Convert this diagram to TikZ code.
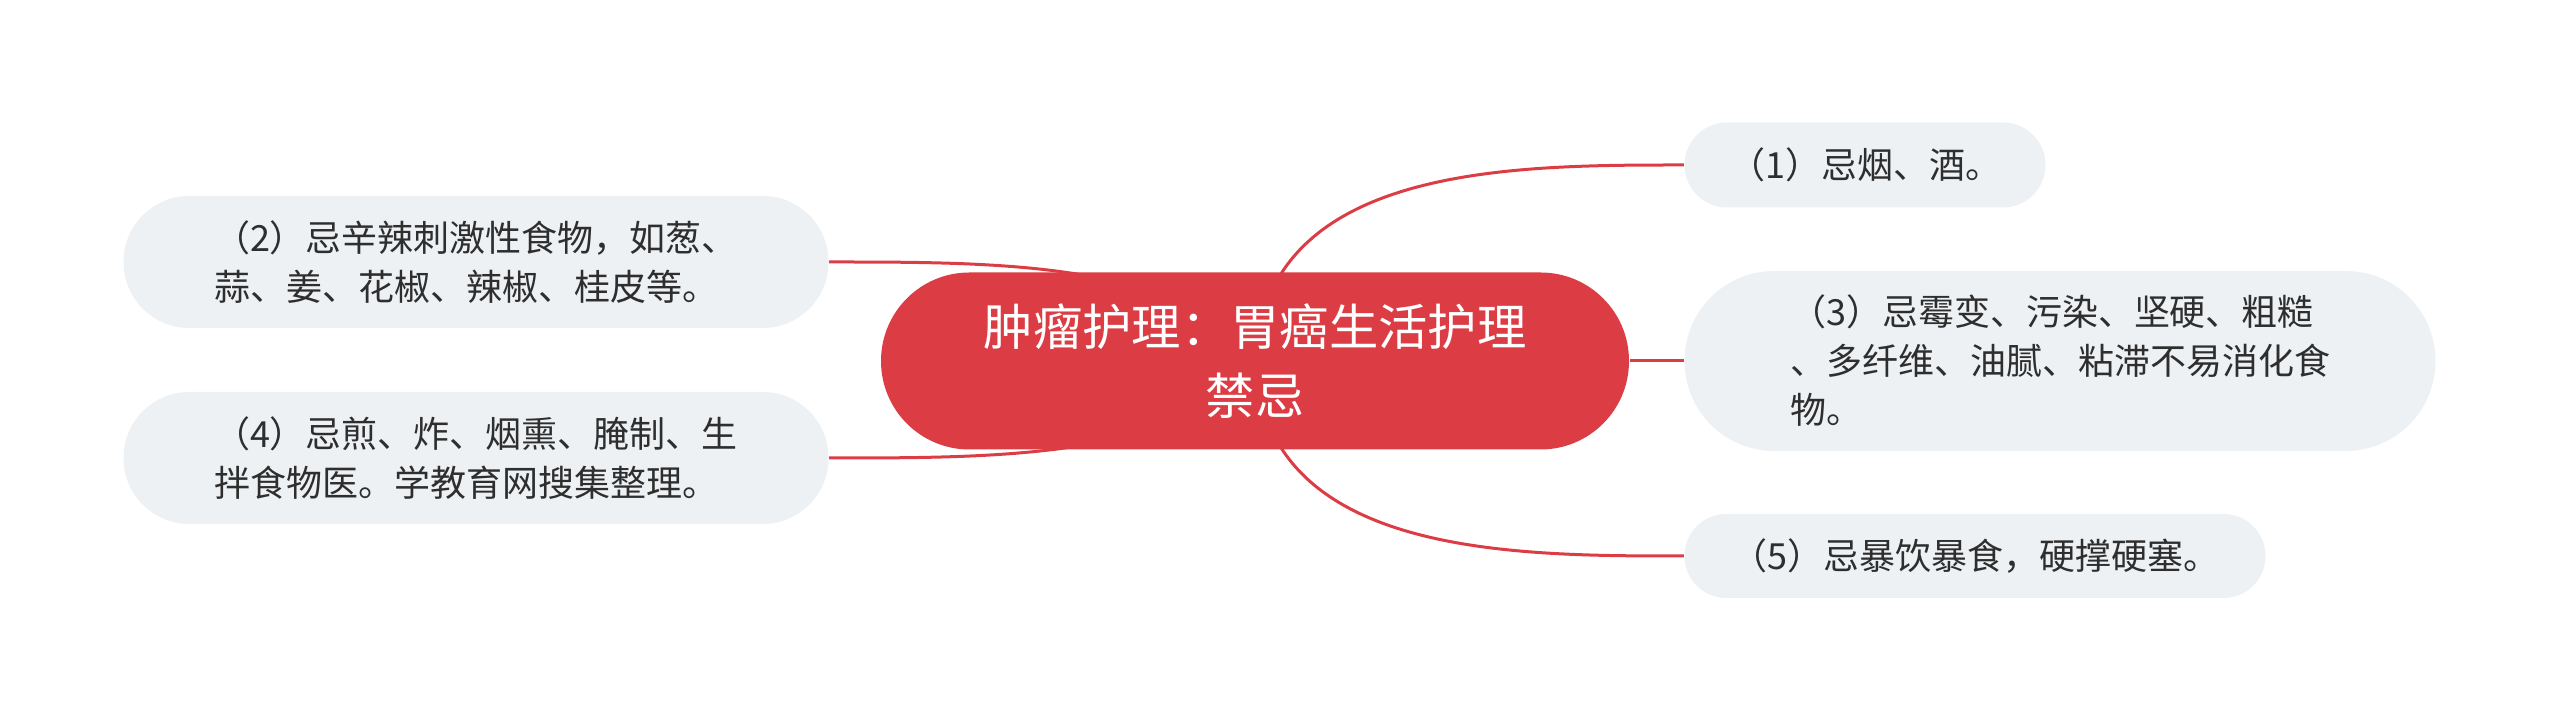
\documentclass[tikz,border=0pt]{standalone}
\usepackage{fontspec}
\newfontfamily\cjk{Noto Sans CJK SC}
\usetikzlibrary{backgrounds}
\definecolor{rootred}{RGB}{220,61,69}
\definecolor{leafgray}{RGB}{238,241,244}
\definecolor{leaftext}{RGB}{46,46,46}
\tikzset{
	root/.style={fill=rootred, text=white, rounded corners=26.5pt, minimum width=224.4pt, minimum height=53.1pt, align=center, font=\cjk\fontsize{14.8}{20.7}\selectfont},
	leaf/.style={fill=leafgray, text=leaftext, align=left, font=\cjk\fontsize{10.8}{14.7}\selectfont},
	link/.style={draw=rootred, line width=0.9pt},
}

\begin{document}
\begin{tikzpicture}[x=0.3pt, y=-0.3pt]
	\useasboundingbox (0,0) rectangle (2560,721);
	\node[root] (root) at (1255,361) {肿瘤护理：胃癌生活护理\\禁忌};
	\node[leaf, minimum width=108.3pt, minimum height=25.5pt, rounded corners=12.7pt] (c1) at (1865,165) {（1）忌烟、酒。};
	\node[leaf, minimum width=211.5pt, minimum height=39.6pt, rounded corners=19.7pt] (c2) at (476,262) {（2）忌辛辣刺激性食物，如葱、\\蒜、姜、花椒、辣椒、桂皮等。};
	\node[leaf, minimum width=225.3pt, minimum height=54pt, rounded corners=26.9pt] (c3) at (2060,361) {（3）忌霉变、污染、坚硬、粗糙\\、多纤维、油腻、粘滞不易消化食\\物。};
	\node[leaf, minimum width=211.5pt, minimum height=39.6pt, rounded corners=19.7pt] (c4) at (476,458) {（4）忌煎、炸、烟熏、腌制、生\\拌食物医。学教育网搜集整理。};
	\node[leaf, minimum width=174.3pt, minimum height=25.2pt, rounded corners=12.5pt] (c5) at (1975,556) {（5）忌暴饮暴食，硬撑硬塞。};
	\begin{scope}[on background layer]
		\draw[link] (root.center) .. controls ([xshift=3pt]root.center |- c1.west) and ([xshift=-52pt]c1.west) .. (c1.west);
		\draw[link] (root.center) .. controls ([xshift=-22.5pt]root.center |- c2.east) and ([xshift=52pt]c2.east) .. (c2.east);
		\draw[link] (root.east) -- (c3.west);
		\draw[link] (root.center) .. controls ([xshift=-22.5pt]root.center |- c4.east) and ([xshift=52pt]c4.east) .. (c4.east);
		\draw[link] (root.center) .. controls ([xshift=3pt]root.center |- c5.west) and ([xshift=-52pt]c5.west) .. (c5.west);
	\end{scope}
\end{tikzpicture}
\end{document}
